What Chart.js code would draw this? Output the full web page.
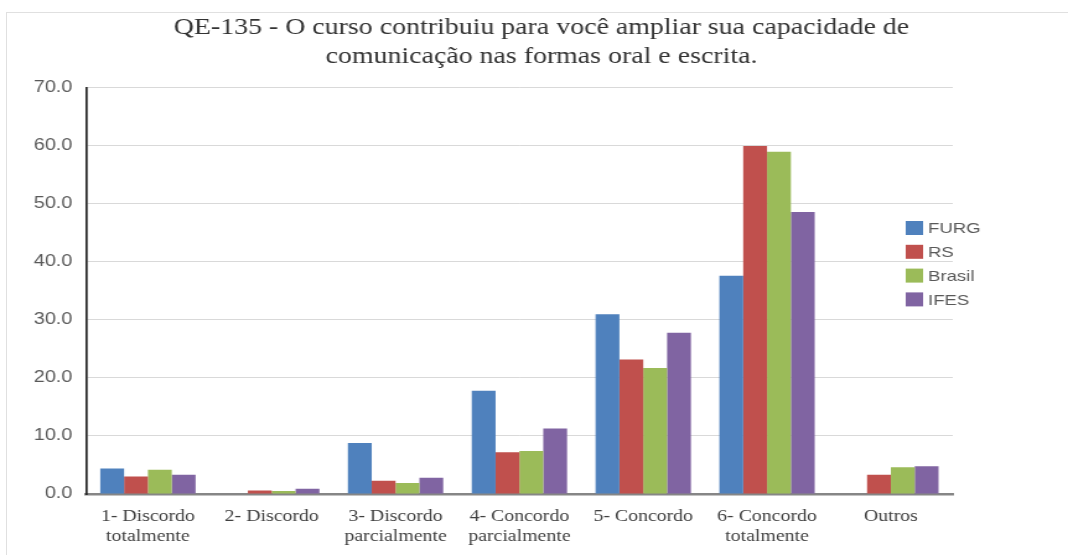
<!DOCTYPE html>
<html>
<head>
<meta charset="utf-8">
<script src="https://cdn.jsdelivr.net/npm/chart.js@4"></script>
<style>
  html, body { margin: 0; padding: 0; background: #fff; overflow: hidden; }
  #frame { position: absolute; left: 6px; top: 12px; width: 1100px; height: 600px; border: 1px solid #e0e0e0; }
  /* the reference is stretched horizontally, so draw narrow and scale out */
  #wrap { position: absolute; left: 0; top: 0; width: 862px; height: 555px; transform: scaleX(1.239); transform-origin: 0 0; }
</style>
</head>
<body>
<div id="frame"></div>
<div id="wrap"><canvas id="chart"></canvas></div>
<script>
// QE-135 answers, % per group
const categories = [
    ['1- Discordo', 'totalmente'],
    '2- Discordo',
    ['3- Discordo', 'parcialmente'],
    ['4- Concordo', 'parcialmente'],
    '5- Concordo',
    ['6- Concordo', 'totalmente'],
    'Outros'
];
const furg   = [4.4, 0,   8.8, 17.8, 31.0, 37.6, 0];
const rs     = [3.0, 0.6, 2.3, 7.2,  23.2, 60.0, 3.3];
const brasil = [4.2, 0.5, 1.9, 7.4,  21.7, 59.0, 4.6];
const ifes   = [3.3, 0.9, 2.8, 11.3, 27.8, 48.6, 4.8];
const yTicks = [0, 10, 20, 30, 40, 50, 60, 70];

const titleLines = [
    'QE-135 - O curso contribuiu para você ampliar sua capacidade de',
    'comunicação nas formas oral e escrita.'
];

// ── Legend drawn inside the plot, on the right ────────────────
const sideLegend = {
    id: 'sideLegend',
    afterDraw(chart) {
        const ctx = chart.ctx;
        ctx.save();
        ctx.font = '15px "Liberation Sans", Arial, sans-serif';
        ctx.textBaseline = 'middle';
        chart.data.datasets.forEach((ds, i) => {
            const y = 228 + i * 23.8;
            ctx.fillStyle = ds.backgroundColor;
            ctx.fillRect(731, y - 7, 14, 14);
            ctx.fillStyle = '#595959';
            ctx.fillText(ds.label, 749, y + 1);
        });
        ctx.restore();
    }
};

const bar = (label, data, color) => ({
    label, data,
    backgroundColor: color,
    borderWidth: 0,
    categoryPercentage: 0.77,
    barPercentage: 1.0
});

new Chart(document.getElementById('chart'), {
    type: 'bar',
    data: {
        labels: categories,
        datasets: [
            bar('FURG', furg, '#4F81BD'),
            bar('RS', rs, '#C0504D'),
            bar('Brasil', brasil, '#9BBB59'),
            bar('IFES', ifes, '#8064A2')
        ]
    },
    options: {
        responsive: true, maintainAspectRatio: false,
        animation: false,
        layout: { padding: { left: 12, right: 0, top: 0, bottom: 0 } },
        plugins: {
            legend: { display: false },
            tooltip: { enabled: false },
            title: {
                display: true,
                text: titleLines,
                color: '#333',
                font: { family: '"Liberation Serif", "Times New Roman", serif', size: 22.5, weight: 'normal', lineHeight: 1.3 },
                padding: { top: 13.4, bottom: 16 }
            }
        },
        scales: {
            x: {
                z: 1,
                afterFit: s => { s.height = 61; },
                grid: { display: false, drawTicks: false },
                border: { color: '#868686', width: 2.5 },
                ticks: {
                    color: '#404040',
                    font: { family: '"Liberation Serif", "Times New Roman", serif', size: 16, lineHeight: 1.25 },
                    padding: 13, maxRotation: 0, autoSkip: false
                }
            },
            y: {
                min: yTicks[0], max: yTicks[yTicks.length - 1],
                afterBuildTicks: s => { s.ticks = yTicks.map(v => ({ value: v })); },
                afterFit: s => { s.width = 57.4; },
                grid: { color: c => c.tick && c.tick.value === 0 ? 'rgba(0,0,0,0)' : '#d9d9d9', drawTicks: false },
                border: { color: '#262626', width: 1.7 },
                ticks: {
                    color: '#595959',
                    font: { family: '"Liberation Sans", Arial, sans-serif', size: 16 },
                    padding: 11,
                    callback: v => v.toFixed(1)
                }
            },
            // empty right axis, only reserves the space the plot leaves on the right
            yRight: {
                position: 'right',
                grid: { display: false },
                border: { display: false },
                ticks: { display: false },
                afterFit: s => { s.width = 93; }
            }
        }
    },
    plugins: [sideLegend]
});
</script>
</body>
</html>
